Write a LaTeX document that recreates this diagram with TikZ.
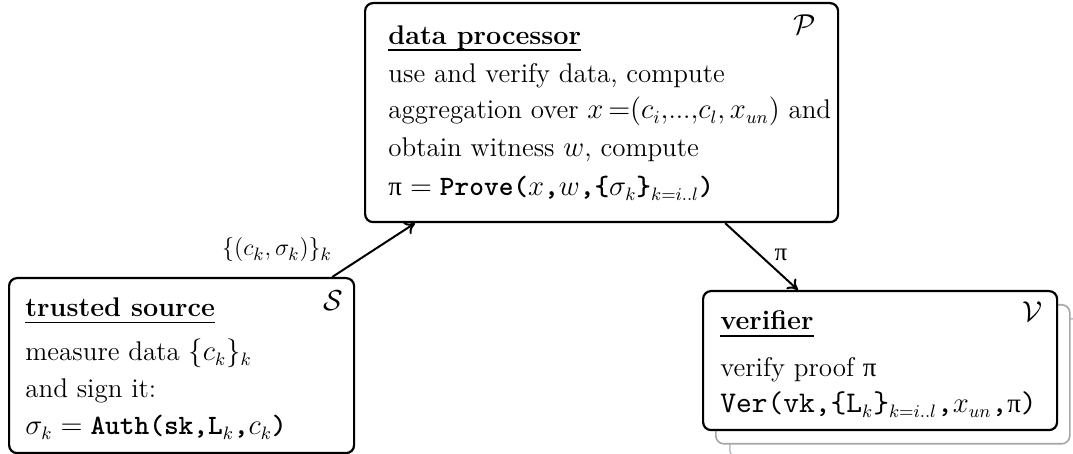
\documentclass[tikz,border=0pt]{standalone}
\usepackage{fontspec}
\usetikzlibrary{arrows.meta}
\newfontfamily\courf{lmmono10-regular.otf}[BoldFont=lmmonolt10-bold.otf]
\newfontfamily\grkf{Liberation Serif}
\newcommand{\tty}[1]{{\courf\bfseries\fontsize{14}{16}\selectfont #1}}
\newcommand{\ttv}[1]{{\courf\fontsize{15}{17}\selectfont #1}}
\newcommand{\upi}{{\grkf π}}
\begin{document}
\begin{tikzpicture}[x=0.5pt,y=-0.5pt,
  box/.style={draw,line width=1.1pt,rounded corners=4pt,fill=white,inner sep=0pt,anchor=north west},
  ghost/.style={box,draw=gray!70,line width=0.8pt},
  txt/.style={anchor=base west,inner sep=0pt,font=\fontsize{13.5}{16}\selectfont},
  sym/.style={inner sep=0pt,font=\fontsize{13.4}{16}\selectfont},
  arr/.style={-{To[length=5pt,width=7pt]},line width=1pt},
  uline/.style={line width=0.9pt},
  lbl/.style={inner sep=0pt,font=\fontsize{12.5}{15}\selectfont}]
\useasboundingbox (0,0) rectangle (1073,454);
% verifier with stacked copies
\node[ghost,draw=blue!10!gray!45,minimum width=177pt,minimum height=69.5pt] (V2) at (729,318) {};
\node[ghost,minimum width=177pt,minimum height=69.5pt] (V1) at (715,304) {};
\node[box,minimum width=177pt,minimum height=69.5pt] (V) at (702,290) {};
% data processor
\node[box,minimum width=236.5pt,minimum height=109.5pt] (P) at (364,2) {};
% trusted source
\node[box,minimum width=172.5pt,minimum height=87.5pt] (S) at (8,277) {};

% texts of P
\node[txt] (p0) at (388,45) {\textbf{data processor}};
\draw[uline] ([yshift=-2.6pt]p0.base west) -- ([yshift=-2.6pt]p0.base east);
\node[txt] (p1) at (388,83) {use and verify data, compute};
\node[txt] (p2) at (388,119) {aggregation over $x\,{=}(c_i{,}$...${,}c_l{,}\,x_{un})$ and};
\node[txt] (p3) at (388,157) {obtain witness $w$, compute};
\node[txt] (p4) at (388,196) {\upi${}={}$\tty{Prove(}$x$\tty{,}$w$\tty{,\{}$\sigma_k$\tty{\}}$_{k=i..l}$\tty{)}};
\node[sym] (ps) at (805,25) {$\mathcal{P}$};

% texts of S
\node[txt] (s0) at (25,317) {\textbf{trusted source}};
\draw[uline] ([yshift=-2.8pt]s0.base west) -- ([yshift=-2.8pt]s0.base east);
\node[txt] (s1) at (25,361) {measure data $\{c_k\}_k$};
\node[txt] (s2) at (25,398) {and sign it:};
\node[txt] (s3) at (25,435) {$\sigma_k={}$\tty{Auth(sk,L}$_k$\tty{,}$c_k$\tty{)}};
\node[sym] (ss) at (333,301) {$\mathcal{S}$};

% texts of V
\node[txt] (v0) at (720,330) {\textbf{verifier}};
\draw[uline] ([yshift=-3pt]v0.base west) -- ([yshift=-3pt]v0.base east);
\node[txt] (v1) at (720,377) {verify proof \upi};
\node[txt] (v2) at (720,413) {\ttv{Ver(vk,\{L}$_k$\ttv{\}}$_{k=i..l}$\ttv{,}$x_{un}$\ttv{,}\upi\ttv{)}};
\node[sym] (vs) at (1033,312) {$\mathcal{V}$};

% connectors
\draw[arr] ([xshift=-11.5pt]S.north east) -- ([xshift=25.5pt]P.south west);
\draw[arr] ([xshift=-57pt]P.south east) -- ([xshift=48pt]V.north west);
\node[lbl] (l1) at (277,250) {$\{(c_k{,}\,\sigma_k)\}_k$};
\node[lbl] (l2) at (781,255) {\upi};
\end{tikzpicture}
\end{document}
